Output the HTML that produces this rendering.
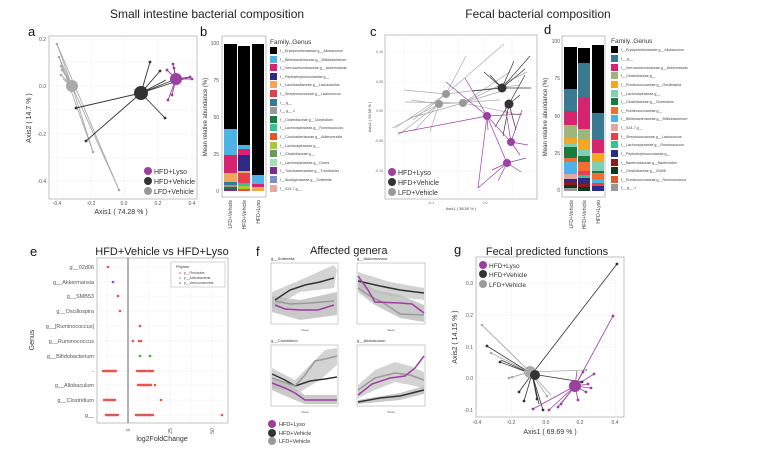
<!DOCTYPE html>
<html><head><meta charset="utf-8"><style>
html,body{margin:0;padding:0;background:#fff}
svg{display:block;font-family:"Liberation Sans",sans-serif}
</style></head><body>
<svg width="768" height="456" viewBox="0 0 768 456" xmlns="http://www.w3.org/2000/svg">
<text x="207" y="18" font-size="12" text-anchor="middle" fill="#222">Small intestine bacterial composition</text>
<text x="538" y="18" font-size="12" text-anchor="middle" fill="#222">Fecal bacterial composition</text>
<text x="28" y="36" font-size="13" fill="#111">a</text>
<text x="200" y="36" font-size="13" fill="#111">b</text>
<text x="370" y="36" font-size="13" fill="#111">c</text>
<text x="544" y="34" font-size="13" fill="#111">d</text>

<!-- Panel a -->
<rect x="49" y="36" width="148" height="163" fill="#fff" stroke="#999" stroke-width="0.6"/>
<g stroke="#eee" stroke-width="0.5">
<line x1="57" y1="36" x2="57" y2="199"/><line x1="91" y1="36" x2="91" y2="199"/><line x1="124" y1="36" x2="124" y2="199"/><line x1="158" y1="36" x2="158" y2="199"/><line x1="192" y1="36" x2="192" y2="199"/>
<line x1="49" y1="39" x2="197" y2="39"/><line x1="49" y1="62" x2="197" y2="62"/><line x1="49" y1="86" x2="197" y2="86"/><line x1="49" y1="110" x2="197" y2="110"/><line x1="49" y1="134" x2="197" y2="134"/><line x1="49" y1="158" x2="197" y2="158"/><line x1="49" y1="181" x2="197" y2="181"/>
</g>
<g font-size="5" fill="#555" text-anchor="end"><text x="46" y="41">0.2</text><text x="46" y="88">0.0</text><text x="46" y="136">-0.2</text><text x="46" y="183">-0.4</text></g>
<g font-size="5" fill="#555" text-anchor="middle"><text x="57" y="205">-0.4</text><text x="91" y="205">-0.2</text><text x="124" y="205">0.0</text><text x="158" y="205">0.2</text><text x="192" y="205">0.4</text></g>
<text x="121" y="214" font-size="7" text-anchor="middle" fill="#333">Axis1 ( 74.28 % )</text>
<text x="31" y="118" font-size="7" text-anchor="middle" fill="#333" transform="rotate(-90 31 118)">Axis2 ( 14.7 % )</text>
<g stroke="#aaa" stroke-width="0.9">
<line x1="72" y1="86" x2="57" y2="44"/><line x1="72" y1="86" x2="59" y2="57"/><line x1="72" y1="86" x2="61" y2="66"/><line x1="72" y1="86" x2="62" y2="70"/><line x1="72" y1="86" x2="61" y2="75"/><line x1="72" y1="86" x2="63" y2="79"/><line x1="72" y1="86" x2="93" y2="152"/><line x1="72" y1="86" x2="119" y2="190"/><line x1="57" y1="44" x2="119" y2="190"/><line x1="59" y1="57" x2="93" y2="152"/>
</g>
<g fill="#aaa"><circle cx="57" cy="44" r="1.3"/><circle cx="59" cy="57" r="1.3"/><circle cx="61" cy="66" r="1.3"/><circle cx="62" cy="70" r="1.3"/><circle cx="61" cy="75" r="1.3"/><circle cx="93" cy="152" r="1.3"/><circle cx="119" cy="190" r="1.3"/><circle cx="72" cy="86" r="6"/></g>
<g stroke="#333" stroke-width="0.9">
<line x1="141" y1="93" x2="150" y2="62"/><line x1="141" y1="93" x2="160" y2="71"/><line x1="141" y1="93" x2="166" y2="80"/><line x1="141" y1="93" x2="76" y2="108"/><line x1="141" y1="93" x2="86" y2="141"/><line x1="141" y1="93" x2="165" y2="118"/><line x1="141" y1="93" x2="176" y2="79"/><line x1="141" y1="93" x2="190" y2="77"/>
</g>
<g fill="#333"><circle cx="150" cy="62" r="1.4"/><circle cx="160" cy="71" r="1.4"/><circle cx="76" cy="108" r="1.4"/><circle cx="86" cy="141" r="1.4"/><circle cx="165" cy="118" r="1.4"/><circle cx="141" cy="93" r="7"/></g>
<g stroke="#9b3fa0" stroke-width="0.9">
<line x1="176" y1="79" x2="173" y2="64"/><line x1="176" y1="79" x2="174" y2="68"/><line x1="176" y1="79" x2="167" y2="70"/><line x1="176" y1="79" x2="190" y2="77"/><line x1="176" y1="79" x2="192" y2="79"/><line x1="176" y1="79" x2="168" y2="100"/><line x1="176" y1="79" x2="172" y2="95"/>
</g>
<g fill="#9b3fa0"><circle cx="173" cy="64" r="1.4"/><circle cx="174" cy="68" r="1.4"/><circle cx="167" cy="70" r="1.4"/><circle cx="190" cy="77" r="1.4"/><circle cx="192" cy="79" r="1.4"/><circle cx="168" cy="100" r="1.4"/><circle cx="172" cy="95" r="1.4"/><circle cx="176" cy="79" r="6"/></g>
<circle cx="148" cy="171" r="4" fill="#9b3fa0"/><circle cx="148" cy="181" r="4" fill="#333"/><circle cx="148" cy="191" r="4" fill="#999"/>
<g font-size="7" fill="#333"><text x="154" y="174">HFD+Lyso</text><text x="154" y="184">HFD+Vehicle</text><text x="154" y="194">LFD+Vehicle</text></g>

<!-- Panel b -->
<rect x="222" y="36" width="44" height="161" fill="#fff" stroke="#999" stroke-width="0.6"/>
<g font-size="5" fill="#555" text-anchor="end"><text x="219" y="45">100</text><text x="219" y="82">75</text><text x="219" y="119">50</text><text x="219" y="156">25</text><text x="219" y="193">0</text></g>
<text x="207" y="117" font-size="6" text-anchor="middle" fill="#333" transform="rotate(-90 207 117)">Mean relative abundance (%)</text>
<g>
<rect x="224" y="44" width="13" height="85" fill="#000"/>
<rect x="224" y="129" width="13" height="26" fill="#4db3e6"/>
<rect x="224" y="155" width="13" height="18" fill="#d6246e"/>
<rect x="224" y="173" width="13" height="9" fill="#f4a55a"/>
<rect x="224" y="182" width="13" height="3" fill="#3b7891"/>
<rect x="224" y="185" width="13" height="2" fill="#999"/>
<rect x="224" y="187" width="13" height="2" fill="#1c7a3a"/>
<rect x="224" y="189" width="13" height="2" fill="#7b2a8e"/>
<rect x="238" y="46" width="12" height="99" fill="#000"/>
<rect x="238" y="145" width="12" height="4" fill="#4db3e6"/>
<rect x="238" y="149" width="12" height="6" fill="#d6246e"/>
<rect x="238" y="155" width="12" height="16" fill="#2e2a86"/>
<rect x="238" y="171" width="12" height="2" fill="#f4a55a"/>
<rect x="238" y="173" width="12" height="10" fill="#e8404a"/>
<rect x="238" y="183" width="12" height="3" fill="#3dbf94"/>
<rect x="238" y="186" width="12" height="3" fill="#a8c93a"/>
<rect x="238" y="189" width="12" height="2" fill="#e8522a"/>
<rect x="252" y="44" width="12" height="131" fill="#000"/>
<rect x="252" y="175" width="12" height="9" fill="#4db3e6"/>
<rect x="252" y="184" width="12" height="3" fill="#d6246e"/>
<rect x="252" y="187" width="12" height="4" fill="#f4a55a"/>
</g>
<g font-size="5" fill="#444" text-anchor="end">
<text transform="translate(232,200) rotate(-90)">LFD+Vehicle</text>
<text transform="translate(246,200) rotate(-90)">HFD+Vehicle</text>
<text transform="translate(260,200) rotate(-90)">HFD+Lyso</text>
</g>
<text x="270" y="44" font-size="6.5" fill="#333">Family..Genus</text>
<g font-size="3.6" fill="#444">
<rect x="270" y="47" width="7" height="7" fill="#000"/><text x="280" y="52">f__Erysipelotrichaceae.g__Allobaculum</text>
<rect x="270" y="56" width="7" height="7" fill="#4db3e6"/><text x="280" y="61">f__Bifidobacteriaceae.g__Bifidobacterium</text>
<rect x="270" y="64" width="7" height="7" fill="#d6246e"/><text x="280" y="69">f__Verrucomicrobiaceae.g__Akkermansia</text>
<rect x="270" y="73" width="7" height="7" fill="#2e2a86"/><text x="280" y="78">f__Peptostreptococcaceae.g__</text>
<rect x="270" y="81" width="7" height="7" fill="#f4a55a"/><text x="280" y="86">f__Lactobacillaceae.g__Lactobacillus</text>
<rect x="270" y="90" width="7" height="7" fill="#e8404a"/><text x="280" y="95">f__Streptococcaceae.g__Lactococcus</text>
<rect x="270" y="99" width="7" height="7" fill="#3b7891"/><text x="280" y="104">f__.g__</text>
<rect x="270" y="107" width="7" height="7" fill="#999"/><text x="280" y="112">f__.g__.1</text>
<rect x="270" y="116" width="7" height="7" fill="#1c7a3a"/><text x="280" y="121">f__Clostridiaceae.g__Clostridium</text>
<rect x="270" y="124" width="7" height="7" fill="#3dbf94"/><text x="280" y="129">f__Lachnospiraceae.g__Ruminococcus</text>
<rect x="270" y="133" width="7" height="7" fill="#e8522a"/><text x="280" y="138">f__Coriobacteriaceae.g__Adlercreutzia</text>
<rect x="270" y="142" width="7" height="7" fill="#a8c93a"/><text x="280" y="147">f__Lachnospiraceae.g__</text>
<rect x="270" y="150" width="7" height="7" fill="#6a9a5a"/><text x="280" y="155">f__Clostridiaceae.g__</text>
<rect x="270" y="159" width="7" height="7" fill="#a6dcb8"/><text x="280" y="164">f__Lachnospiraceae.g__Dorea</text>
<rect x="270" y="167" width="7" height="7" fill="#7b2a8e"/><text x="280" y="172">f__Turicibacteraceae.g__Turicibacter</text>
<rect x="270" y="176" width="7" height="7" fill="#7d8fc0"/><text x="280" y="181">f__Alcaligenaceae.g__Sutterella</text>
<rect x="270" y="185" width="7" height="7" fill="#e8a8a0"/><text x="280" y="190">f__S24-7.g__</text>
</g>

<!-- Panel c -->
<rect x="385" y="35" width="152" height="164" fill="#fff" stroke="#999" stroke-width="0.6"/>
<g stroke="#eee" stroke-width="0.5">
<line x1="404" y1="35" x2="404" y2="199"/><line x1="431" y1="35" x2="431" y2="199"/><line x1="458" y1="35" x2="458" y2="199"/><line x1="485" y1="35" x2="485" y2="199"/><line x1="512" y1="35" x2="512" y2="199"/>
<line x1="385" y1="52" x2="537" y2="52"/><line x1="385" y1="82" x2="537" y2="82"/><line x1="385" y1="111" x2="537" y2="111"/><line x1="385" y1="141" x2="537" y2="141"/><line x1="385" y1="171" x2="537" y2="171"/>
</g>
<g font-size="3.5" fill="#666" text-anchor="end"><text x="383" y="53">0.10</text><text x="383" y="83">0.05</text><text x="383" y="112">0.00</text><text x="383" y="142">-0.05</text><text x="383" y="172">-0.10</text></g>
<g font-size="3.5" fill="#666" text-anchor="middle"><text x="431" y="204">-0.1</text><text x="485" y="204">0.0</text></g>
<text x="461" y="210" font-size="4" text-anchor="middle" fill="#444">Axis1 ( 38.50 % )</text>
<text x="371" y="117" font-size="4" text-anchor="middle" fill="#444" transform="rotate(-90 371 117)">Axis2 ( 26.58 % )</text>
<g stroke="#aaa" stroke-width="0.7">
<line x1="446" y1="94" x2="404" y2="90"/><line x1="446" y1="94" x2="395" y2="128"/><line x1="446" y1="94" x2="466" y2="56"/><line x1="446" y1="94" x2="504" y2="44"/><line x1="446" y1="94" x2="413" y2="120"/><line x1="439" y1="104" x2="392" y2="128"/><line x1="439" y1="104" x2="398" y2="135"/><line x1="439" y1="104" x2="414" y2="131"/><line x1="439" y1="104" x2="411" y2="100"/><line x1="439" y1="104" x2="430" y2="132"/><line x1="463" y1="103" x2="505" y2="90"/><line x1="463" y1="103" x2="510" y2="72"/><line x1="463" y1="103" x2="527" y2="72"/><line x1="463" y1="103" x2="520" y2="115"/><line x1="463" y1="103" x2="405" y2="102"/><line x1="446" y1="94" x2="520" y2="85"/><line x1="439" y1="104" x2="500" y2="100"/><line x1="463" y1="103" x2="410" y2="118"/>
</g>
<g stroke="#333" stroke-width="0.7">
<line x1="502" y1="88" x2="530" y2="56"/><line x1="502" y1="88" x2="514" y2="61"/><line x1="502" y1="88" x2="484" y2="72"/><line x1="502" y1="88" x2="472" y2="91"/><line x1="502" y1="88" x2="531" y2="88"/><line x1="502" y1="88" x2="525" y2="69"/><line x1="509" y1="104" x2="503" y2="136"/><line x1="509" y1="104" x2="495" y2="127"/><line x1="509" y1="104" x2="516" y2="130"/><line x1="509" y1="104" x2="520" y2="95"/><line x1="509" y1="104" x2="525" y2="75"/><line x1="502" y1="88" x2="490" y2="75"/>
</g>
<g stroke="#9b3fa0" stroke-width="0.7">
<line x1="487" y1="116" x2="398" y2="133"/><line x1="487" y1="116" x2="446" y2="82"/><line x1="487" y1="116" x2="465" y2="78"/><line x1="487" y1="116" x2="488" y2="130"/><line x1="487" y1="116" x2="522" y2="114"/><line x1="487" y1="116" x2="511" y2="142"/><line x1="511" y1="142" x2="522" y2="110"/><line x1="511" y1="142" x2="528" y2="145"/><line x1="511" y1="142" x2="520" y2="155"/><line x1="511" y1="142" x2="505" y2="105"/><line x1="507" y1="163" x2="478" y2="188"/><line x1="507" y1="163" x2="492" y2="170"/><line x1="507" y1="163" x2="498" y2="181"/><line x1="507" y1="163" x2="521" y2="172"/><line x1="507" y1="163" x2="487" y2="116"/><line x1="507" y1="163" x2="526" y2="158"/><line x1="478" y1="188" x2="487" y2="116"/>
</g>
<g fill="#999"><circle cx="446" cy="94" r="4"/><circle cx="439" cy="104" r="4"/><circle cx="463" cy="103" r="4"/></g>
<g fill="#333"><circle cx="502" cy="88" r="4.5"/><circle cx="509" cy="104" r="4.5"/></g>
<g fill="#9b3fa0"><circle cx="487" cy="116" r="4"/><circle cx="511" cy="142" r="4"/><circle cx="507" cy="163" r="4"/></g>
<circle cx="392" cy="172" r="4" fill="#9b3fa0"/><circle cx="392" cy="182" r="4" fill="#333"/><circle cx="392" cy="192" r="4" fill="#999"/>
<g font-size="7" fill="#333"><text x="398" y="175">HFD+Lyso</text><text x="398" y="185">HFD+Vehicle</text><text x="398" y="195">LFD+Vehicle</text></g>

<!-- Panel d -->
<rect x="562" y="36" width="43" height="161" fill="#fff" stroke="#999" stroke-width="0.6"/>
<g font-size="5" fill="#555" text-anchor="end"><text x="560" y="43">100</text><text x="560" y="80">75</text><text x="560" y="118">50</text><text x="560" y="155">25</text><text x="560" y="192">0</text></g>
<text x="547" y="117" font-size="6" text-anchor="middle" fill="#333" transform="rotate(-90 547 117)">Mean relative abundance (%)</text>
<g>
<rect x="564" y="47" width="13" height="42" fill="#000"/>
<rect x="564" y="89" width="13" height="22" fill="#3b7891"/>
<rect x="564" y="111" width="13" height="14" fill="#d6246e"/>
<rect x="564" y="125" width="13" height="13" fill="#9cb67e"/>
<rect x="564" y="138" width="13" height="6" fill="#f5a623"/>
<rect x="564" y="144" width="13" height="3" fill="#7fcfb0"/>
<rect x="564" y="147" width="13" height="11" fill="#1c7a3a"/>
<rect x="564" y="158" width="13" height="4" fill="#f07030"/>
<rect x="564" y="162" width="13" height="12" fill="#4db3e6"/>
<rect x="564" y="174" width="13" height="5" fill="#e0a8a0"/>
<rect x="564" y="179" width="13" height="3" fill="#2e2a86"/>
<rect x="564" y="182" width="13" height="3" fill="#8b1a1a"/>
<rect x="564" y="185" width="13" height="3" fill="#0c3a1c"/>
<rect x="564" y="188" width="13" height="3" fill="#999"/>
<rect x="578" y="48" width="12" height="15" fill="#000"/>
<rect x="578" y="63" width="12" height="34" fill="#3b7891"/>
<rect x="578" y="97" width="12" height="32" fill="#d6246e"/>
<rect x="578" y="129" width="12" height="11" fill="#9cb67e"/>
<rect x="578" y="140" width="12" height="10" fill="#f5a623"/>
<rect x="578" y="150" width="12" height="6" fill="#7fcfb0"/>
<rect x="578" y="156" width="12" height="6" fill="#1c7a3a"/>
<rect x="578" y="162" width="12" height="9" fill="#f07030"/>
<rect x="578" y="171" width="12" height="4" fill="#e8404a"/>
<rect x="578" y="175" width="12" height="3" fill="#3dbf94"/>
<rect x="578" y="178" width="12" height="6" fill="#2e2a86"/>
<rect x="578" y="184" width="12" height="3" fill="#8b1a1a"/>
<rect x="578" y="187" width="12" height="4" fill="#0c3a1c"/>
<rect x="592" y="45" width="12" height="68" fill="#000"/>
<rect x="592" y="113" width="12" height="27" fill="#3b7891"/>
<rect x="592" y="140" width="12" height="13" fill="#d6246e"/>
<rect x="592" y="153" width="12" height="9" fill="#f5a623"/>
<rect x="592" y="162" width="12" height="9" fill="#7fcfb0"/>
<rect x="592" y="171" width="12" height="2" fill="#1c7a3a"/>
<rect x="592" y="173" width="12" height="6" fill="#f07030"/>
<rect x="592" y="179" width="12" height="4" fill="#4db3e6"/>
<rect x="592" y="183" width="12" height="3" fill="#e8404a"/>
<rect x="592" y="186" width="12" height="5" fill="#2e2a86"/>
</g>
<g font-size="5" fill="#444" text-anchor="end">
<text transform="translate(573,200) rotate(-90)">LFD+Vehicle</text>
<text transform="translate(586,200) rotate(-90)">HFD+Vehicle</text>
<text transform="translate(600,200) rotate(-90)">HFD+Lyso</text>
</g>
<text x="611" y="43" font-size="6.5" fill="#333">Family..Genus</text>
<g font-size="3.6" fill="#444">
<rect x="611" y="46" width="7" height="7" fill="#000"/><text x="621" y="51">f__Erysipelotrichaceae.g__Allobaculum</text>
<rect x="611" y="55" width="7" height="7" fill="#3b7891"/><text x="621" y="60">f__.g__</text>
<rect x="611" y="64" width="7" height="7" fill="#d6246e"/><text x="621" y="69">f__Verrucomicrobiaceae.g__Akkermansia</text>
<rect x="611" y="72" width="7" height="7" fill="#9cb67e"/><text x="621" y="77">f__Clostridiaceae.g__</text>
<rect x="611" y="81" width="7" height="7" fill="#f5a623"/><text x="621" y="86">f__Ruminococcaceae.g__Oscillospira</text>
<rect x="611" y="90" width="7" height="7" fill="#7fcfb0"/><text x="621" y="95">f__Lachnospiraceae.g__</text>
<rect x="611" y="98" width="7" height="7" fill="#1c7a3a"/><text x="621" y="103">f__Clostridiaceae.g__Clostridium</text>
<rect x="611" y="107" width="7" height="7" fill="#f07030"/><text x="621" y="112">f__Ruminococcaceae.g__</text>
<rect x="611" y="115" width="7" height="7" fill="#4db3e6"/><text x="621" y="120">f__Bifidobacteriaceae.g__Bifidobacterium</text>
<rect x="611" y="124" width="7" height="7" fill="#e0a8a0"/><text x="621" y="129">f__S24-7.g__</text>
<rect x="611" y="133" width="7" height="7" fill="#e8404a"/><text x="621" y="138">f__Streptococcaceae.g__Lactococcus</text>
<rect x="611" y="141" width="7" height="7" fill="#3dbf94"/><text x="621" y="146">f__Lachnospiraceae.g__Ruminococcus</text>
<rect x="611" y="150" width="7" height="7" fill="#2e2a86"/><text x="621" y="155">f__Peptostreptococcaceae.g__</text>
<rect x="611" y="159" width="7" height="7" fill="#8b1a1a"/><text x="621" y="164">f__Bacteroidaceae.g__Bacteroides</text>
<rect x="611" y="167" width="7" height="7" fill="#0c3a1c"/><text x="621" y="172">f__Clostridiaceae.g__02d06</text>
<rect x="611" y="176" width="7" height="7" fill="#d95a2a"/><text x="621" y="181">f__Ruminococcaceae.g__Ruminococcus</text>
<rect x="611" y="184" width="7" height="7" fill="#999"/><text x="621" y="189">f__.g__.1</text>
</g>

<!-- Panel e -->
<text x="30" y="256" font-size="13" fill="#111">e</text>
<text x="162" y="255" font-size="11" text-anchor="middle" fill="#222">HFD+Vehicle vs HFD+Lyso</text>
<rect x="97" y="258" width="131" height="165" fill="#fff" stroke="#999" stroke-width="0.6"/>
<g stroke="#eee" stroke-width="0.5">
<line x1="149" y1="258" x2="149" y2="423"/><line x1="170" y1="258" x2="170" y2="423"/><line x1="191" y1="258" x2="191" y2="423"/><line x1="212" y1="258" x2="212" y2="423"/><line x1="107" y1="258" x2="107" y2="423"/>
<line x1="97" y1="267" x2="228" y2="267"/><line x1="97" y1="282" x2="228" y2="282"/><line x1="97" y1="296" x2="228" y2="296"/><line x1="97" y1="311" x2="228" y2="311"/><line x1="97" y1="326" x2="228" y2="326"/><line x1="97" y1="341" x2="228" y2="341"/><line x1="97" y1="356" x2="228" y2="356"/><line x1="97" y1="371" x2="228" y2="371"/><line x1="97" y1="385" x2="228" y2="385"/><line x1="97" y1="400" x2="228" y2="400"/><line x1="97" y1="415" x2="228" y2="415"/>
</g>
<line x1="128" y1="258" x2="128" y2="423" stroke="#666" stroke-width="1"/>
<g font-size="5.5" fill="#555" text-anchor="end">
<text x="94" y="269">g__02d06</text><text x="94" y="284">g__Akkermansia</text><text x="94" y="298">g__SMB53</text><text x="94" y="313">g__Oscillospira</text><text x="94" y="328">g__[Ruminococcus]</text><text x="94" y="343">g__Ruminococcus</text><text x="94" y="358">g__Bifidobacterium</text><text x="94" y="373">-</text><text x="94" y="387">g__Allobaculum</text><text x="94" y="402">g__Clostridium</text><text x="94" y="417">g__</text>
</g>
<text x="34" y="340" font-size="7" text-anchor="middle" fill="#333" transform="rotate(-90 34 340)">Genus</text>
<g font-size="5" fill="#555" text-anchor="middle">
<text transform="translate(130,430) rotate(-90)">0</text><text transform="translate(172,431) rotate(-90)">25</text><text transform="translate(214,431) rotate(-90)">50</text>
</g>
<text x="162" y="441" font-size="7" text-anchor="middle" fill="#333">log2FoldChange</text>
<g fill="#e8554e">
<circle cx="108" cy="267" r="1.3"/><circle cx="118" cy="296" r="1.3"/><circle cx="120" cy="311" r="1.3"/><circle cx="140" cy="326" r="1.3"/>
<circle cx="133" cy="341" r="1.3"/><circle cx="139" cy="341" r="1.3"/><circle cx="141" cy="341" r="1.3"/>
</g>
<circle cx="113" cy="282" r="1.3" fill="#8a4fc4"/>
<circle cx="140" cy="356" r="1.3" fill="#4caf3a"/><circle cx="150" cy="356" r="1.3" fill="#4caf3a"/>
<g stroke="#e8554e" stroke-width="2.4" stroke-linecap="round">
<line x1="103" y1="371" x2="116" y2="371"/><line x1="137" y1="371" x2="146" y2="371"/><line x1="148" y1="371" x2="153" y2="371"/>
<line x1="138" y1="385" x2="151" y2="385"/><line x1="104" y1="400" x2="115" y2="400"/>
<line x1="106" y1="415" x2="118" y2="415"/><line x1="136" y1="415" x2="153" y2="415"/>
</g>
<g fill="#e8554e"><circle cx="155" cy="385" r="1.3"/><circle cx="161" cy="400" r="1.3"/><circle cx="222" cy="415" r="1.3"/></g>
<rect x="171" y="262" width="54" height="25" fill="#fff" stroke="#aaa" stroke-width="0.5"/>
<text x="176" y="268" font-size="4" fill="#333">Phylum</text>
<g font-size="3.3" fill="#444"><circle cx="180" cy="273" r="0.8" fill="#e8554e"/><text x="184" y="274">p__Firmicutes</text><circle cx="180" cy="278" r="0.8" fill="#4caf3a"/><text x="184" y="279">p__Actinobacteria</text><circle cx="180" cy="283" r="0.8" fill="#8a4fc4"/><text x="184" y="284">p__Verrucomicrobia</text></g>

<!-- Panel f -->
<text x="256" y="256" font-size="13" fill="#111">f</text>
<text x="310" y="254" font-size="11" fill="#222">Affected genera</text>
<g font-size="4" fill="#333"><text x="271" y="260">g__Sutterella</text><text x="357" y="260">g__Akkermansia</text><text x="271" y="342">g__Clostridium</text><text x="357" y="342">g__Allobaculum</text></g>
<rect x="271" y="263" width="67" height="61" fill="#fff" stroke="#999" stroke-width="0.5"/>
<path d="M272,292 L300,280 L334,265 L337,270 L334,288 L300,292 L272,308 Z" fill="#c8c8c8" opacity="0.8"/>
<path d="M272,296 L300,300 L337,292 L337,315 L300,320 L272,312 Z" fill="#bbb" opacity="0.8"/>
<polyline points="275,300 290,290 305,285 320,282 334,278" fill="none" stroke="#333" stroke-width="1.5"/>
<polyline points="275,301 290,304 310,303 334,301" fill="none" stroke="#999" stroke-width="1.5"/>
<polyline points="275,305 285,309 300,310 318,310 334,305" fill="none" stroke="#9b3fa0" stroke-width="1.5"/>
<rect x="357" y="263" width="68" height="61" fill="#fff" stroke="#999" stroke-width="0.5"/>
<path d="M358,272 L390,282 L424,288 L424,300 L390,296 L358,288 Z" fill="#c8c8c8" opacity="0.8"/>
<path d="M358,278 L375,290 L400,295 L424,305 L424,322 L400,318 L375,305 L358,292 Z" fill="#bbb" opacity="0.8"/>
<polyline points="358,281 380,286 400,290 424,293" fill="none" stroke="#333" stroke-width="1.5"/>
<polyline points="358,288 370,296 382,302 400,314 424,315" fill="none" stroke="#999" stroke-width="1.5"/>
<polyline points="358,276 368,290 375,302 400,303 412,304 424,313" fill="none" stroke="#9b3fa0" stroke-width="1.5"/>
<rect x="271" y="345" width="67" height="61" fill="#fff" stroke="#999" stroke-width="0.5"/>
<path d="M272,368 L295,380 L310,365 L325,350 L337,348 L337,365 L320,380 L300,392 L272,388 Z" fill="#c8c8c8" opacity="0.8"/>
<path d="M272,378 L290,385 L305,395 L337,395 L337,404 L305,404 L290,398 L272,390 Z" fill="#bbb" opacity="0.8"/>
<polyline points="272,374 285,380 295,386 310,381 325,379 337,377" fill="none" stroke="#333" stroke-width="1.5"/>
<polyline points="272,378 295,386 305,375 315,361 325,359 337,356" fill="none" stroke="#999" stroke-width="1.5"/>
<polyline points="272,383 285,388 295,393 305,400 337,400" fill="none" stroke="#9b3fa0" stroke-width="1.5"/>
<rect x="357" y="345" width="68" height="61" fill="#fff" stroke="#999" stroke-width="0.5"/>
<path d="M358,385 L375,370 L395,362 L410,366 L424,372 L424,388 L410,385 L395,382 L375,390 L358,398 Z" fill="#c8c8c8" opacity="0.8"/>
<path d="M358,400 L400,393 L424,386 L424,394 L400,400 L358,404 Z" fill="#bbb" opacity="0.8"/>
<polyline points="358,402 380,398 400,396 424,390" fill="none" stroke="#333" stroke-width="1.5"/>
<polyline points="358,390 375,378 395,373 410,375 424,380" fill="none" stroke="#999" stroke-width="1.5"/>
<polyline points="358,395 372,384 390,378 405,376 415,368 424,356" fill="none" stroke="#9b3fa0" stroke-width="1.5"/>
<g font-size="3" fill="#666" text-anchor="middle"><text x="305" y="331">Week</text><text x="391" y="331">Week</text><text x="305" y="413">Week</text><text x="391" y="413">Week</text></g>
<circle cx="272" cy="424" r="4" fill="#9b3fa0"/><circle cx="272" cy="433" r="4" fill="#333"/><circle cx="272" cy="441" r="4" fill="#999"/>
<g font-size="5.5" fill="#333"><text x="279" y="426">HFD+Lyso</text><text x="279" y="435">HFD+Vehicle</text><text x="279" y="443">LFD+Vehicle</text></g>

<!-- Panel g -->
<text x="454" y="254" font-size="13" fill="#111">g</text>
<text x="547" y="255" font-size="11" text-anchor="middle" fill="#222">Fecal predicted functions</text>
<rect x="476" y="257" width="148" height="160" fill="#fff" stroke="#999" stroke-width="0.6"/>
<g stroke="#eee" stroke-width="0.5">
<line x1="477" y1="257" x2="477" y2="417"/><line x1="511" y1="257" x2="511" y2="417"/><line x1="546" y1="257" x2="546" y2="417"/><line x1="580" y1="257" x2="580" y2="417"/><line x1="615" y1="257" x2="615" y2="417"/>
<line x1="476" y1="283" x2="624" y2="283"/><line x1="476" y1="315" x2="624" y2="315"/><line x1="476" y1="347" x2="624" y2="347"/><line x1="476" y1="378" x2="624" y2="378"/><line x1="476" y1="410" x2="624" y2="410"/>
</g>
<g font-size="5" fill="#555" text-anchor="end"><text x="473" y="285">0.3</text><text x="473" y="317">0.2</text><text x="473" y="349">0.1</text><text x="473" y="380">0.0</text><text x="473" y="412">-0.1</text></g>
<g font-size="5" fill="#555" text-anchor="middle"><text x="477" y="424">-0.4</text><text x="511" y="424">-0.2</text><text x="546" y="424">0.0</text><text x="580" y="424">0.2</text><text x="615" y="424">0.4</text></g>
<text x="550" y="434" font-size="7" text-anchor="middle" fill="#333">Axis1 ( 69.69 % )</text>
<text x="457" y="337" font-size="7" text-anchor="middle" fill="#333" transform="rotate(-90 457 337)">Axis2 ( 14.15 % )</text>
<g stroke="#aaa" stroke-width="0.8">
<line x1="530" y1="372" x2="482" y2="325"/><line x1="530" y1="372" x2="485" y2="328"/><line x1="530" y1="372" x2="491" y2="353"/><line x1="530" y1="372" x2="509" y2="378"/><line x1="530" y1="372" x2="547" y2="396"/><line x1="530" y1="372" x2="586" y2="370"/><line x1="530" y1="372" x2="512" y2="377"/><line x1="530" y1="372" x2="551" y2="395"/>
</g>
<g stroke="#333" stroke-width="0.8">
<line x1="532" y1="374" x2="617" y2="264"/><line x1="532" y1="374" x2="487" y2="346"/><line x1="532" y1="374" x2="500" y2="362"/><line x1="532" y1="374" x2="519" y2="392"/><line x1="532" y1="374" x2="524" y2="401"/><line x1="532" y1="374" x2="543" y2="410"/><line x1="532" y1="374" x2="537" y2="399"/><line x1="532" y1="374" x2="582" y2="382"/><line x1="532" y1="374" x2="539" y2="404"/><line x1="532" y1="374" x2="501" y2="360"/>
</g>
<g stroke="#9b3fa0" stroke-width="0.8">
<line x1="575" y1="386" x2="613" y2="316"/><line x1="575" y1="386" x2="583" y2="372"/><line x1="575" y1="386" x2="594" y2="374"/><line x1="575" y1="386" x2="588" y2="384"/><line x1="575" y1="386" x2="591" y2="388"/><line x1="575" y1="386" x2="586" y2="392"/><line x1="575" y1="386" x2="578" y2="400"/><line x1="575" y1="386" x2="561" y2="404"/><line x1="575" y1="386" x2="558" y2="407"/><line x1="575" y1="386" x2="549" y2="410"/><line x1="575" y1="386" x2="533" y2="409"/><line x1="575" y1="386" x2="577" y2="371"/>
</g>
<g fill="#aaa"><circle cx="482" cy="325" r="1.3"/><circle cx="491" cy="353" r="1.3"/><circle cx="509" cy="378" r="1.3"/><circle cx="547" cy="396" r="1.3"/><circle cx="586" cy="370" r="1.3"/><circle cx="512" cy="377" r="1.3"/><circle cx="530" cy="372" r="6"/></g>
<g fill="#333"><circle cx="617" cy="264" r="1.4"/><circle cx="487" cy="346" r="1.4"/><circle cx="500" cy="362" r="1.4"/><circle cx="519" cy="392" r="1.4"/><circle cx="524" cy="401" r="1.4"/><circle cx="543" cy="410" r="1.4"/><circle cx="537" cy="399" r="1.4"/><circle cx="582" cy="382" r="1.4"/><circle cx="535" cy="375" r="5"/></g>
<g fill="#9b3fa0"><circle cx="613" cy="316" r="1.4"/><circle cx="583" cy="372" r="1.4"/><circle cx="594" cy="374" r="1.4"/><circle cx="588" cy="384" r="1.4"/><circle cx="591" cy="388" r="1.4"/><circle cx="586" cy="392" r="1.4"/><circle cx="578" cy="400" r="1.4"/><circle cx="561" cy="404" r="1.4"/><circle cx="558" cy="407" r="1.4"/><circle cx="549" cy="410" r="1.4"/><circle cx="533" cy="409" r="1.4"/><circle cx="575" cy="386" r="6"/></g>
<circle cx="483" cy="265" r="4" fill="#9b3fa0"/><circle cx="483" cy="274" r="4" fill="#333"/><circle cx="483" cy="284" r="4" fill="#999"/>
<g font-size="6.5" fill="#333"><text x="489" y="268">HFD+Lyso</text><text x="489" y="277">HFD+Vehicle</text><text x="489" y="287">LFD+Vehicle</text></g>
</svg>
</body></html>
